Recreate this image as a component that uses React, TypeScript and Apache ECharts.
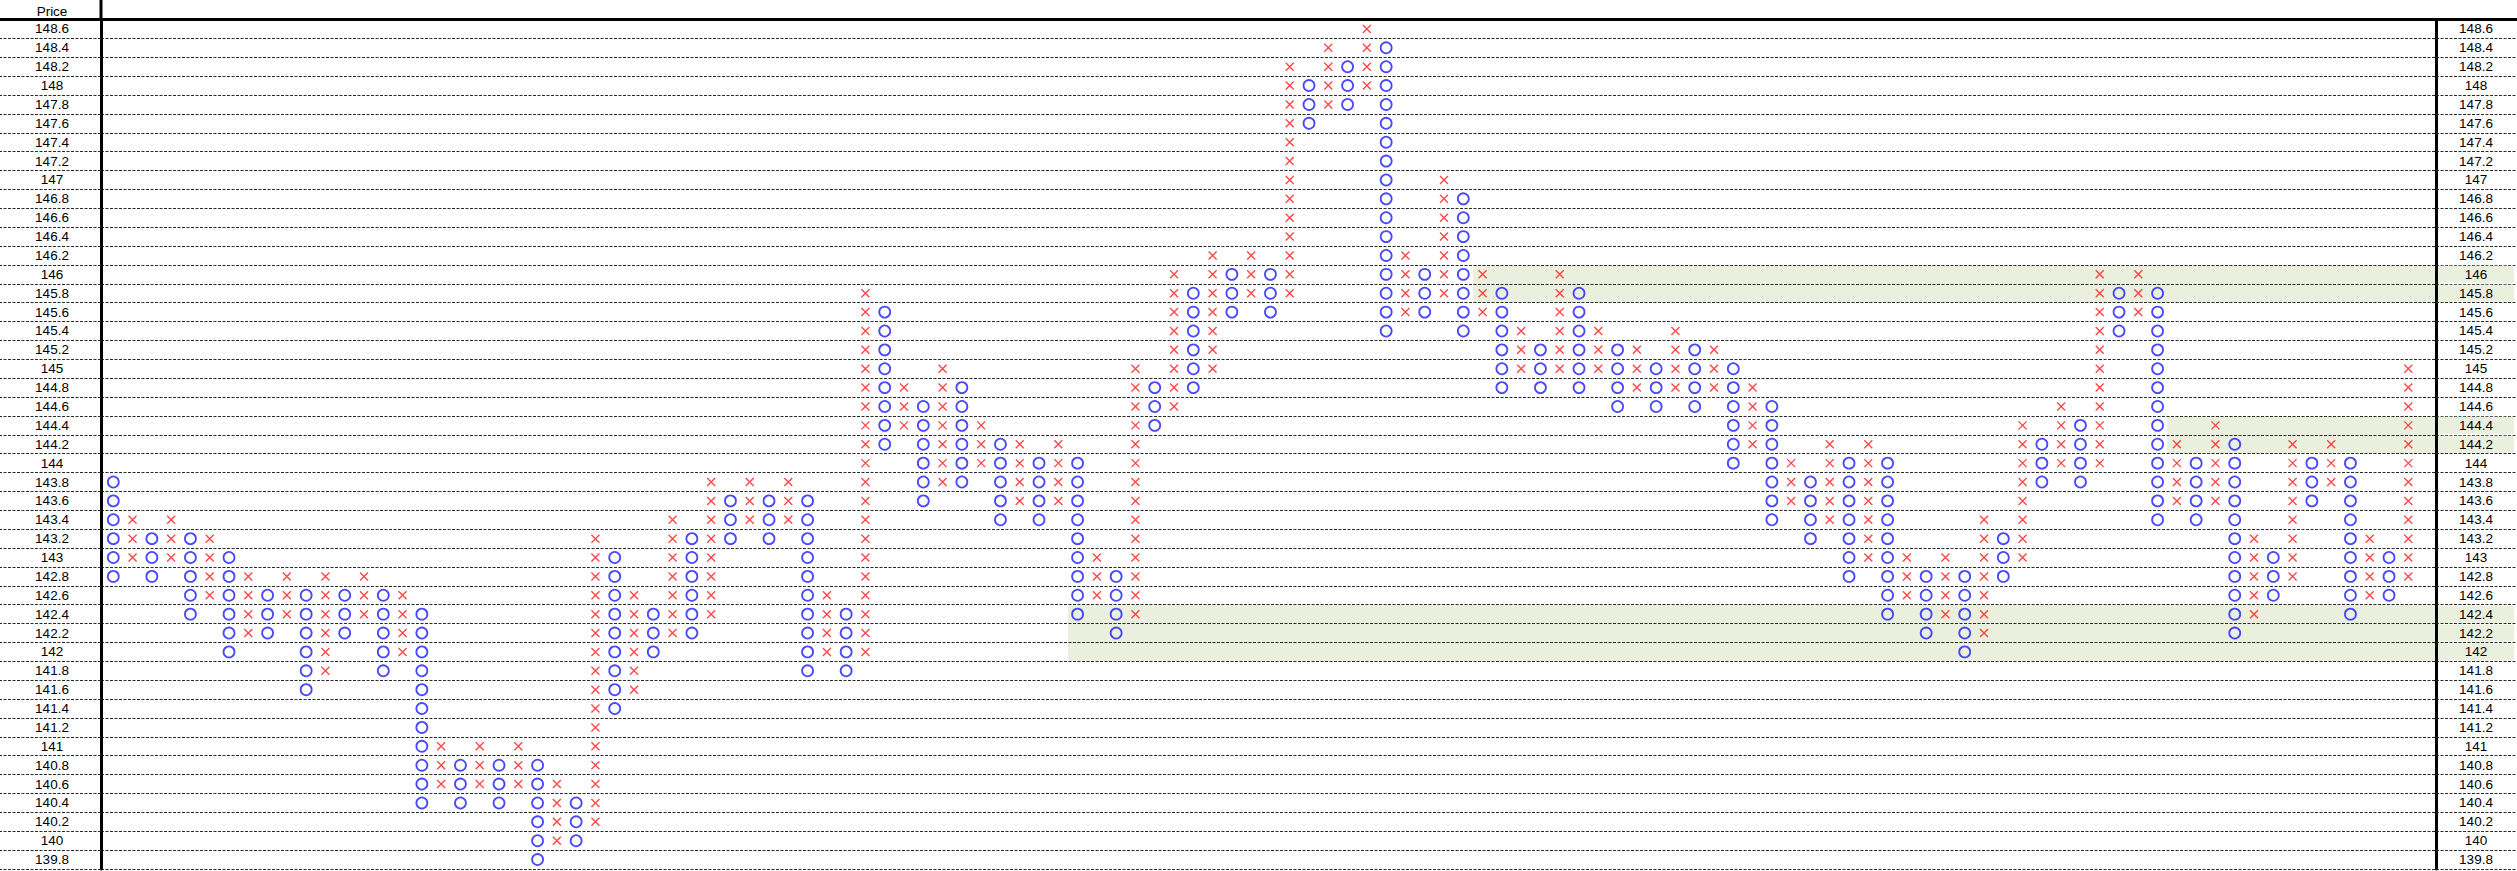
import React, { useEffect, useRef } from 'react';
import * as echarts from 'echarts';

// Price rows (bottom to top), also the tick labels on both sides
const priceLabels = [
  '139.8', '140', '140.2', '140.4', '140.6', '140.8', '141', '141.2', '141.4', '141.6',
  '141.8', '142', '142.2', '142.4', '142.6', '142.8', '143', '143.2', '143.4', '143.6',
  '143.8', '144', '144.2', '144.4', '144.6', '144.8', '145', '145.2', '145.4', '145.6',
  '145.8', '146', '146.2', '146.4', '146.6', '146.8', '147', '147.2', '147.4', '147.6',
  '147.8', '148', '148.2', '148.4', '148.6',
];

const BOX = 0.2;
// Point & figure columns: first column is O, then alternating X / O
const firstColumnKind = 'O';
const colTop = [
  143.8, 143.4, 143.2, 143.4, 143.2, 143.2, 143.0, 142.8, 142.6, 142.8,
  142.6, 142.8, 142.6, 142.8, 142.6, 142.6, 142.4, 141.0, 140.8, 141.0,
  140.8, 141.0, 140.8, 140.6, 140.4, 143.2, 143.0, 142.6, 142.4, 143.4,
  143.2, 143.8, 143.6, 143.8, 143.6, 143.8, 143.6, 142.6, 142.4, 145.8,
  145.6, 144.8, 144.6, 145.0, 144.8, 144.4, 144.2, 144.2, 144.0, 144.2,
  144.0, 143.0, 142.8, 145.0, 144.8, 146.0, 145.8, 146.2, 146.0, 146.2,
  146.0, 148.2, 148.0, 148.4, 148.2, 148.6, 148.4, 146.2, 146.0, 147.0,
  146.8, 146.0, 145.8, 145.4, 145.2, 146.0, 145.8, 145.4, 145.2, 145.2,
  145.0, 145.4, 145.2, 145.2, 145.0, 144.8, 144.6, 144.0, 143.8, 144.2,
  144.0, 144.2, 144.0, 143.0, 142.8, 143.0, 142.8, 143.4, 143.2, 144.4,
  144.2, 144.6, 144.4, 146.0, 145.8, 146.0, 145.8, 144.2, 144.0, 144.4,
  144.2, 143.2, 143.0, 144.2, 144.0, 144.2, 144.0, 143.2, 143.0, 145.0,
];
const colBottom = [
  142.8, 143.0, 142.8, 143.0, 142.4, 142.6, 142.0, 142.2, 142.2, 142.4,
  141.6, 141.8, 142.2, 142.4, 141.8, 142.0, 140.4, 140.6, 140.4, 140.6,
  140.4, 140.6, 139.8, 140.0, 140.0, 140.2, 141.4, 141.6, 142.0, 142.2,
  142.2, 142.4, 143.2, 143.4, 143.2, 143.4, 141.8, 142.0, 141.8, 142.0,
  144.2, 144.4, 143.6, 143.8, 143.8, 144.0, 143.4, 143.6, 143.4, 143.6,
  142.4, 142.6, 142.2, 142.4, 144.4, 144.6, 144.8, 145.0, 145.6, 145.8,
  145.6, 145.8, 147.6, 147.8, 147.8, 148.0, 145.4, 145.6, 145.6, 145.8,
  145.4, 145.6, 144.8, 145.0, 144.8, 145.0, 144.8, 145.0, 144.6, 144.8,
  144.6, 144.8, 144.6, 144.8, 144.0, 144.2, 143.4, 143.6, 143.2, 143.4,
  142.8, 143.0, 142.4, 142.6, 142.2, 142.4, 142.0, 142.2, 142.8, 143.0,
  143.8, 144.0, 143.8, 144.0, 145.4, 145.6, 143.4, 143.6, 143.4, 143.6,
  142.2, 142.4, 142.6, 142.8, 143.6, 143.8, 142.4, 142.6, 142.6, 142.8,
];

// Shaded support/resistance bands
const bandStartCol = [50, 71, 107];
const bandLow = [142.0, 145.8, 144.2];
const bandHigh = [142.4, 146.0, 144.4];

const X_MIN = -0.6375;
const X_MAX = 120.436;

function buildBoxes(kind: string) {
  const pts: number[][] = [];
  colTop.forEach((top, i) => {
    const k = (i % 2 === 0) === (firstColumnKind === 'O') ? 'O' : 'X';
    if (k !== kind) return;
    const bottom = colBottom[i];
    const n = Math.round((top - bottom) / BOX);
    for (let j = 0; j <= n; j++) {
      pts.push([i, Math.round((bottom + j * BOX) * 10) / 10]);
    }
  });
  return pts;
}

function inBand(label: string) {
  const v = parseFloat(label);
  return bandLow.some((lo, i) => v >= lo - 1e-6 && v <= bandHigh[i] + 1e-6);
}

const FONT = "'Liberation Sans', Arial, sans-serif";
const DASH = { color: '#2a2a2a', type: [3, 1.5] as any, width: 1 };

export default function App() {
  const ref = useRef<HTMLDivElement>(null);
  useEffect(() => {
    if (!ref.current) return;
    const chart = echarts.init(ref.current, undefined, { renderer: 'svg' });
    const oData = buildBoxes('O');
    const xData = buildBoxes('X');
    const markAreaData = bandStartCol.map((c, i) => [
      { xAxis: c - 0.5, yAxis: bandLow[i] - BOX / 2 },
      { xAxis: X_MAX, yAxis: bandHigh[i] + BOX / 2 },
    ]);
    chart.setOption({
      animation: false,
      grid: { left: 101, right: 80, top: 19.5, bottom: 2, containLabel: false },
      xAxis: { type: 'value', min: X_MIN, max: X_MAX, show: false },
      yAxis: [
        {
          type: 'category',
          data: priceLabels,
          position: 'left',
          z: 5,
          axisLine: { show: true, onZero: false, lineStyle: { color: '#000', width: 3 } },
          axisTick: { show: true, interval: 0, length: 101, lineStyle: DASH },
          axisLabel: {
            interval: 0, margin: 49, align: 'center', color: '#000',
            fontSize: 13.5, fontFamily: FONT,
          },
          splitLine: { show: true, interval: 0, lineStyle: DASH },
        },
        {
          type: 'category',
          data: priceLabels,
          position: 'right',
          z: 5,
          axisLine: { show: true, onZero: false, lineStyle: { color: '#000', width: 3 } },
          axisTick: { show: true, interval: 0, length: 80, lineStyle: DASH },
          axisLabel: {
            interval: 0, margin: 40, align: 'center', color: '#000',
            fontSize: 13.5, fontFamily: FONT,
            formatter: (v: string) => (inBand(v) ? `{hl|${v}}` : `{n|${v}}`),
            rich: {
              hl: {
                backgroundColor: '#EBEFDD', width: 76, height: 17, lineHeight: 17,
                align: 'center', fontSize: 13.5, fontFamily: FONT, color: '#000',
              },
              n: { width: 76, align: 'center', fontSize: 13.5, fontFamily: FONT, color: '#000' },
            },
          },
          splitLine: { show: false },
        },
        { type: 'value', min: 139.7, max: 148.7, show: false, position: 'left' },
      ],
      series: [
        {
          type: 'scatter',
          yAxisIndex: 2,
          data: oData,
          symbol: 'circle',
          symbolSize: 11,
          silent: true,
          itemStyle: { color: 'rgba(0,0,0,0)', borderColor: '#1b1bff', borderWidth: 1.8 },
          markArea: {
            silent: true,
            itemStyle: { color: '#EBEFDD' },
            data: markAreaData,
          },
          z: 3,
        },
        {
          type: 'scatter',
          yAxisIndex: 2,
          data: xData,
          symbol: 'path://M0,0L10,10M10,0L0,10',
          symbolSize: 8,
          silent: true,
          itemStyle: { color: 'none', borderColor: '#ff1a1a', borderWidth: 1.4 },
          z: 3,
        },
      ],
      graphic: [
        { type: 'line', z: 10, shape: { x1: 0, y1: 19.5, x2: 2517, y2: 19.5 }, style: { stroke: '#000', lineWidth: 3 } },
        { type: 'line', z: 10, shape: { x1: 101, y1: 0, x2: 101, y2: 19.5 }, style: { stroke: '#000', lineWidth: 3 } },
        {
          type: 'text', z: 10, x: 52, y: 11,
          style: { text: 'Price', fill: '#000', fontSize: 13.5, fontFamily: FONT, align: 'center', verticalAlign: 'middle' },
        },
      ],
    });
    return () => chart.dispose();
  }, []);
  return (
    <div
      ref={ref}
      style={{ position: 'fixed', left: 0, top: 0, width: 2517, height: 871, background: '#fff' }}
    />
  );
}
